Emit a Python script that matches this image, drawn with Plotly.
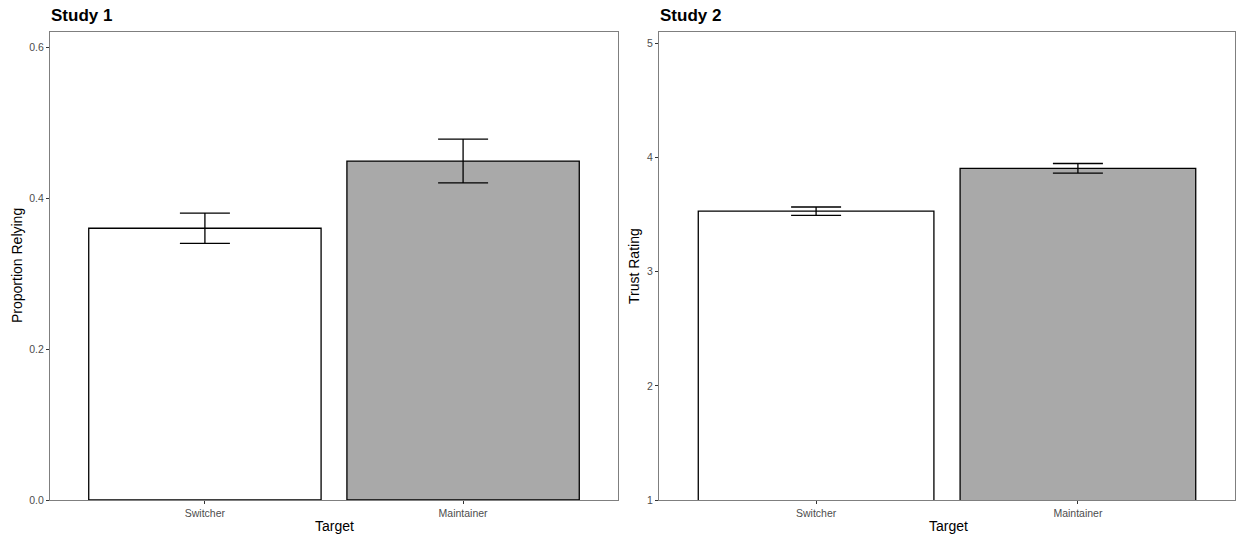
import plotly.graph_objects as go

categories = ["Switcher", "Maintainer"]
study1_values = [0.36, 0.449]
study1_errors = [0.02, 0.029]
study2_values = [3.53, 3.906]
study2_errors = [0.037, 0.042]
bar_colors = ["#FFFFFF", "#A9A9A9"]
study1_ticks = [0.0, 0.2, 0.4, 0.6]
study1_ticktext = ["0.0", "0.2", "0.4", "0.6"]
study2_ticks = [1, 2, 3, 4, 5]

W, H = 1238, 540
fig = go.Figure()

fig.add_trace(go.Bar(
    x=categories, y=study1_values, width=0.9,
    marker=dict(color=bar_colors, line=dict(color="black", width=1.3)),
    error_y=dict(type="data", array=study1_errors, color="black", thickness=1.3, width=25),
    xaxis="x", yaxis="y", showlegend=False))

fig.add_trace(go.Bar(
    x=categories, y=study2_values, width=0.9,
    marker=dict(color=bar_colors, line=dict(color="black", width=1.3)),
    error_y=dict(type="data", array=study2_errors, color="black", thickness=1.3, width=25),
    xaxis="x2", yaxis="y2", showlegend=False))

def px(x):
    return x / W

def py(y):
    return 1 - y / H

axis_common = dict(showline=True, mirror=True, linecolor="#7F7F7F", linewidth=1,
                   showgrid=False, zeroline=False, ticks="outside", ticklen=3,
                   tickcolor="#333333", tickfont=dict(family="Liberation Sans, Arial", size=10.5, color="#4D4D4D"),
                   automargin=False)

fig.update_layout(
    width=W, height=H,
    margin=dict(l=0, r=0, t=0, b=0),
    plot_bgcolor="white", paper_bgcolor="white",
    xaxis=dict(domain=[px(50), px(618)], range=[-0.6, 1.6], anchor="y", **axis_common),
    yaxis=dict(domain=[py(500), py(32)], range=[0, 0.62], anchor="x",
               tickvals=study1_ticks, ticktext=study1_ticktext, **axis_common),
    xaxis2=dict(domain=[px(659), px(1235)], range=[-0.6, 1.6], anchor="y2", **axis_common),
    yaxis2=dict(domain=[py(500), py(32)], range=[1, 5.1], anchor="x2",
                tickvals=study2_ticks, **axis_common),
)

font_title = dict(family="Liberation Sans, Arial", size=17, color="black")
font_axis = dict(family="Liberation Sans, Arial", size=14, color="black")
annotations = [
    dict(text="<b>Study 1</b>", x=px(49), y=py(15.5), xref="paper", yref="paper",
         xanchor="left", yanchor="middle", showarrow=False, font=font_title),
    dict(text="<b>Study 2</b>", x=px(658), y=py(15.5), xref="paper", yref="paper",
         xanchor="left", yanchor="middle", showarrow=False, font=font_title),
    dict(text="Target", x=px(334), y=py(526), xref="paper", yref="paper",
         xanchor="center", yanchor="middle", showarrow=False, font=font_axis),
    dict(text="Target", x=px(948), y=py(526), xref="paper", yref="paper",
         xanchor="center", yanchor="middle", showarrow=False, font=font_axis),
    dict(text="Proportion Relying", x=px(17), y=py(266), xref="paper", yref="paper",
         xanchor="center", yanchor="middle", showarrow=False, textangle=-90, font=font_axis),
    dict(text="Trust Rating", x=px(634), y=py(266), xref="paper", yref="paper",
         xanchor="center", yanchor="middle", showarrow=False, textangle=-90, font=font_axis),
]
fig.update_layout(annotations=annotations)

fig.write_html("out.html", config={"displayModeBar": False},
               post_script="document.body.style.margin='0';document.body.style.overflow='hidden';")
